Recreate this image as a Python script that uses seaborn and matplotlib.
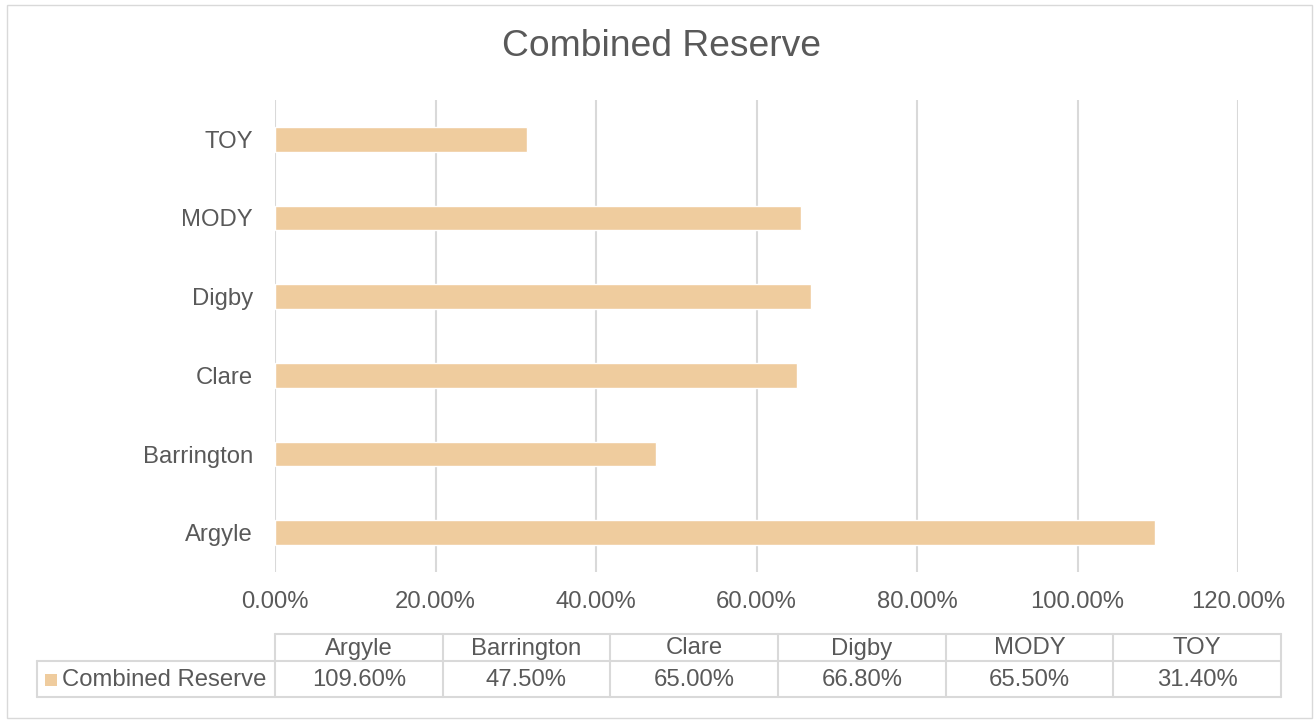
import matplotlib
matplotlib.use("Agg")
import matplotlib.pyplot as plt
from matplotlib.patches import Rectangle
from matplotlib.lines import Line2D
import seaborn as sns
import pandas as pd

# Data
categories = ["Argyle", "Barrington", "Clare", "Digby", "MODY", "TOY"]
combined_reserve = [1.096, 0.475, 0.650, 0.668, 0.655, 0.314]
series_name = "Combined Reserve"
x_ticks = [0.0, 0.2, 0.4, 0.6, 0.8, 1.0, 1.2]

BAR_COLOR = "#EFCC9E"
TEXT_COLOR = "#595959"
LINE_COLOR = "#D9D9D9"
FS = 17.2

sns.set_theme(style="white")
plt.rcParams["font.family"] = ["Liberation Sans", "DejaVu Sans"]

W, H = 1315, 723
fig = plt.figure(figsize=(W / 100, H / 100), dpi=100)

def fx(px):
    return px / W

def fy(py):
    return 1 - py / H

# Plot area
ax_left, ax_right, ax_top, ax_bottom = 275, 1238, 100, 572
ax = fig.add_axes([fx(ax_left), fy(ax_bottom), fx(ax_right - ax_left), (ax_bottom - ax_top) / H])

df = pd.DataFrame({"category": categories, "value": combined_reserve})
order = categories[::-1]  # Argyle at the bottom
sns.barplot(data=df, x="value", y="category", order=order, orient="h",
            color=BAR_COLOR, width=0.31, saturation=1, ax=ax, zorder=3)

ax.set_xlim(0, 1.2)
ax.set_ylim(len(categories) - 0.5, -0.5)
ax.set_xticks(x_ticks)
ax.set_xticklabels([f"{t * 100:.2f}%" for t in x_ticks])
ax.xaxis.grid(True, color=LINE_COLOR, linewidth=1.5, zorder=0)
ax.yaxis.grid(False)
for s in ax.spines.values():
    s.set_visible(False)
ax.set_xlabel("")
ax.set_ylabel("")
ax.tick_params(axis="x", length=0, pad=14, labelsize=FS, labelcolor=TEXT_COLOR)
ax.tick_params(axis="y", length=0, pad=16, labelsize=FS, labelcolor=TEXT_COLOR)

# Title
fig.text(fx(661), fy(47), "Combined Reserve", ha="center", va="center",
         fontsize=26.8, color=TEXT_COLOR)

# Data table below the plot
col_left, col_right = 275, 1281
n = len(categories)
col_w = (col_right - col_left) / n
row_top, row_mid, row_bot = 634, 661, 697
leg_left = 37
lw = 1.5

def hline(x0, x1, y):
    fig.add_artist(Line2D([fx(x0), fx(x1)], [fy(y), fy(y)], color=LINE_COLOR, lw=lw))

def vline(x, y0, y1):
    fig.add_artist(Line2D([fx(x), fx(x)], [fy(y0), fy(y1)], color=LINE_COLOR, lw=lw))

hline(col_left, col_right, row_top)
hline(leg_left, col_right, row_mid)
hline(leg_left, col_right, row_bot)
vline(leg_left, row_mid, row_bot)
for i in range(n + 1):
    vline(col_left + i * col_w, row_top, row_bot)

for i, (cat, val) in enumerate(zip(categories, combined_reserve)):
    cx = col_left + (i + 0.5) * col_w
    fig.text(fx(cx), fy((row_top + row_mid) / 2 + 1), cat, ha="center", va="center",
             fontsize=FS, color=TEXT_COLOR)
    fig.text(fx(cx), fy((row_mid + row_bot) / 2 + 1), f"{val * 100:.2f}%", ha="center",
             va="center", fontsize=FS, color=TEXT_COLOR)

# Legend key in the table
fig.add_artist(Rectangle((fx(45), fy(686)), fx(12), 12 / H, facecolor=BAR_COLOR,
                         edgecolor="none"))
fig.text(fx(62), fy((row_mid + row_bot) / 2 + 1), series_name, ha="left", va="center",
         fontsize=FS, color=TEXT_COLOR)

# Chart border
fig.add_artist(Rectangle((fx(7), fy(718)), fx(1312 - 7), (718 - 5) / H, facecolor="none",
                         edgecolor=LINE_COLOR, lw=1))

fig.savefig("out.png", dpi=100, facecolor="white")
